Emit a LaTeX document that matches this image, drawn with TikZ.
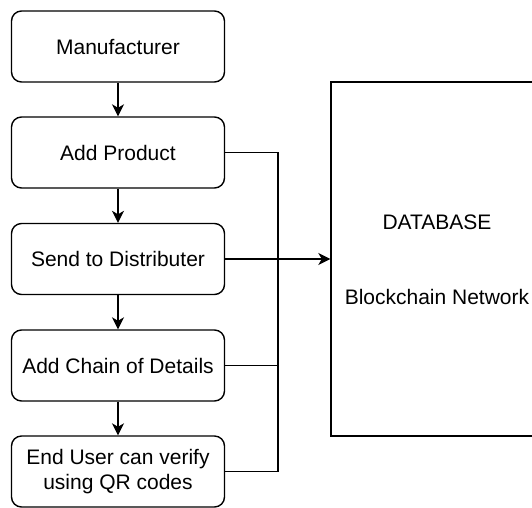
\documentclass[tikz,border=0pt]{standalone}
\usepackage{fontspec}
\setmainfont{Liberation Sans}
\usetikzlibrary{arrows.meta}
\begin{document}
\begin{tikzpicture}[x=1pt,y=-1pt,
  stepbox/.style={draw, rounded corners=10pt, line width=1.4pt, minimum width=213pt, minimum height=71pt, inner sep=2pt, align=center, font=\fontsize{21}{25}\selectfont},
  dbbox/.style={draw, line width=1.4pt, minimum width=209pt, minimum height=354pt, inner sep=0pt},
  lbl/.style={font=\fontsize{21}{25}\selectfont, inner sep=0pt},
  conn/.style={line width=1.4pt},
  arr/.style={line width=1.4pt, -{Stealth[length=12pt,width=12pt,inset=3.5pt]}}]
\useasboundingbox (0,0) rectangle (532,507);
\node[stepbox] (mf) at (118,46.5) {Manufacturer};
\node[stepbox] (ap) at (118,152.5) {Add Product};
\node[stepbox] (sd) at (118,259) {Send to Distributer};
\node[stepbox] (ac) at (118,365.5) {Add Chain of Details};
\node[stepbox] (eu) at (118,471.5) {End User can verify\\using QR codes};
\node[dbbox] (db) at (435.5,259) {};
\node[lbl] (t1) at (437,222) {DATABASE};
\node[lbl] (t2) at (437,297) {Blockchain Network};
\coordinate (busT) at (278,152.5);
\coordinate (busB) at (278,471.5);
\draw[arr] (mf) -- (ap);
\draw[arr] (ap) -- (sd);
\draw[arr] (sd) -- (ac);
\draw[arr] (ac) -- (eu);
\draw[conn] (ap.east) -- (busT) -- (busB) -- (eu.east);
\draw[conn] (ac.east) -- (ac.east -| busT);
\draw[arr] (sd.east) -- (db.west);
\end{tikzpicture}
\end{document}
